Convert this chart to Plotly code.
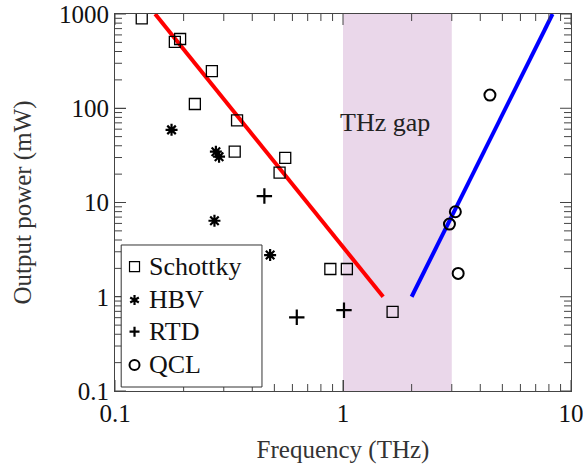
import plotly.graph_objects as go

# ---- data ----
schottky_x = [0.131, 0.183, 0.193, 0.266, 0.224, 0.343, 0.335, 0.558, 0.527, 0.88, 1.04, 1.65]
schottky_y = [900, 505, 543, 248, 111, 74.5, 34.6, 29.7, 20.7, 1.97, 1.97, 0.69]
hbv_x = [0.177, 0.277, 0.286, 0.273, 0.479]
hbv_y = [59, 34.6, 30.6, 6.4, 2.77]
rtd_x = [0.452, 0.627, 1.01]
rtd_y = [11.7, 0.605, 0.72]
qcl_x = [4.41, 3.11, 2.93, 3.2]
qcl_y = [138, 7.98, 5.9, 1.77]

electronic_trend_x = [0.15, 1.5]
electronic_trend_y = [1000, 1]
photonic_trend_x = [2.0, 8.3]
photonic_trend_y = [1, 1000]

gap_range = [1, 3]

x_ticks = [0.1, 1, 10]
x_ticktext = ["0.1", "1", "10"]
y_ticks = [0.1, 1, 10, 100, 1000]
y_ticktext = ["0.1", "1", "10", "100", "1000"]

legend_names = ["Schottky", "HBV", "RTD", "QCL"]

FONT = "Times New Roman"
AX = "#444"


def minor_vals(lo_exp, hi_exp):
    vals = []
    for e in range(lo_exp, hi_exp):
        for m in range(2, 10):
            vals.append(m * 10 ** e)
    return vals


fig = go.Figure()

fig.add_trace(go.Scatter(x=electronic_trend_x, y=electronic_trend_y, mode="lines",
                         line=dict(color="#ff0000", width=4), showlegend=False))
fig.add_trace(go.Scatter(x=photonic_trend_x, y=photonic_trend_y, mode="lines",
                         line=dict(color="#0000ff", width=4), showlegend=False))

fig.add_trace(go.Scatter(x=schottky_x, y=schottky_y, mode="markers", name=legend_names[0],
                         showlegend=False,
                         marker=dict(symbol="square-open", size=11, color="black",
                                     line=dict(width=1.3, color="black"))))
fig.add_trace(go.Scatter(x=hbv_x, y=hbv_y, mode="markers", name=legend_names[1],
                         showlegend=False,
                         marker=dict(symbol="asterisk-open", size=10, color="black",
                                     line=dict(width=2.2, color="black"))))
fig.add_trace(go.Scatter(x=rtd_x, y=rtd_y, mode="markers", name=legend_names[2],
                         showlegend=False,
                         marker=dict(symbol="cross-thin-open", size=11, color="black",
                                     line=dict(width=2.2, color="black"))))
fig.add_trace(go.Scatter(x=qcl_x, y=qcl_y, mode="markers", name=legend_names[3],
                         showlegend=False,
                         marker=dict(symbol="circle-open", size=11, color="black",
                                     line=dict(width=2, color="black"))))

# THz gap band
fig.add_shape(type="rect", xref="x", yref="paper", x0=gap_range[0], x1=gap_range[1],
              y0=0, y1=1, fillcolor="rgb(234,215,234)", line=dict(width=0), layer="below")

fig.add_annotation(x=0.592, y=0.755, xref="paper", yref="paper", text="THz gap",
                   showarrow=False, font=dict(family=FONT, size=26, color="#222"))

# inside ticks on all four sides (major + minor), placed at the tick values
for v in x_ticks + minor_vals(-1, 1):
    ln = 11 if v in x_ticks else 7
    for anchor, sgn in ((0, 1), (1, -1)):
        fig.add_shape(type="line", xref="x", yref="paper", x0=v, x1=v,
                      ysizemode="pixel", yanchor=anchor, y0=0, y1=sgn * ln,
                      line=dict(color=AX, width=1), layer="above")
for v in y_ticks + minor_vals(-1, 3):
    ln = 11 if v in y_ticks else 7
    for anchor, sgn in ((0, 1), (1, -1)):
        fig.add_shape(type="line", yref="y", xref="paper", y0=v, y1=v,
                      xsizemode="pixel", xanchor=anchor, x0=0, x1=sgn * ln,
                      line=dict(color=AX, width=1), layer="above")

# legend box
leg_x0, leg_x1, leg_y0, leg_y1 = 0.0136, 0.3223, 0.0106, 0.3873
fig.add_shape(type="rect", xref="paper", yref="paper", x0=leg_x0, x1=leg_x1,
              y0=leg_y0, y1=leg_y1, fillcolor="white", line=dict(color="#333", width=1),
              layer="above")
leg_rows = [0.3297, 0.2414, 0.1573, 0.069]
sym_x = 0.0428
s = 5
sym_paths = [
    None,
    "M0,-5L0,5 M-4.33,-2.5L4.33,2.5 M-4.33,2.5L4.33,-2.5",
    "M-5,0L5,0 M0,-5L0,5",
    None,
]
for i, (name, ry) in enumerate(zip(legend_names, leg_rows)):
    if i == 0:
        fig.add_shape(type="rect", xref="paper", yref="paper", xsizemode="pixel",
                      ysizemode="pixel", xanchor=sym_x, yanchor=ry,
                      x0=-s, x1=s, y0=-s, y1=s, line=dict(color="black", width=1.2),
                      layer="above")
    elif i == 3:
        fig.add_shape(type="circle", xref="paper", yref="paper", xsizemode="pixel",
                      ysizemode="pixel", xanchor=sym_x, yanchor=ry,
                      x0=-5, x1=5, y0=-5, y1=5, line=dict(color="black", width=2),
                      layer="above")
    else:
        fig.add_shape(type="path", xref="paper", yref="paper", xsizemode="pixel",
                      ysizemode="pixel", xanchor=sym_x, yanchor=ry,
                      path=sym_paths[i], line=dict(color="black", width=2.2),
                      layer="above")
    fig.add_annotation(x=0.0707, y=ry, xref="paper", yref="paper", text=name,
                       xanchor="left", yanchor="middle", showarrow=False,
                       font=dict(family=FONT, size=26, color="#111"))

fig.update_xaxes(type="log", range=[-1, 1], tickmode="array", tickvals=x_ticks,
                 ticktext=x_ticktext, ticklabeloverflow="allow",
                 showline=True, linecolor=AX, linewidth=1, mirror=True,
                 ticks="inside", ticklen=11, tickwidth=1, tickcolor=AX,
                 showgrid=False, zeroline=False, automargin=False,
                 tickfont=dict(family=FONT, size=25, color="#111"),
                 title=dict(text="Frequency (THz)", font=dict(family=FONT, size=25, color="#333"),
                            standoff=14))
fig.update_yaxes(type="log", range=[-1, 3], tickmode="array", tickvals=y_ticks,
                 ticktext=y_ticktext, ticklabeloverflow="allow",
                 showline=True, linecolor=AX, linewidth=1, mirror=True,
                 ticks="inside", ticklen=11, tickwidth=1, tickcolor=AX,
                 showgrid=False, zeroline=False, automargin=False,
                 tickfont=dict(family=FONT, size=25, color="#111"),
                 title=dict(text="Output power (mW)", font=dict(family=FONT, size=25, color="#333"),
                            standoff=20))

fig.update_layout(
    width=583, height=467,
    font=dict(family=FONT),
    margin=dict(l=115, r=12, t=14, b=76, autoexpand=False),
    plot_bgcolor="white", paper_bgcolor="white",
    showlegend=False,
)

fig.write_html("out.html")
